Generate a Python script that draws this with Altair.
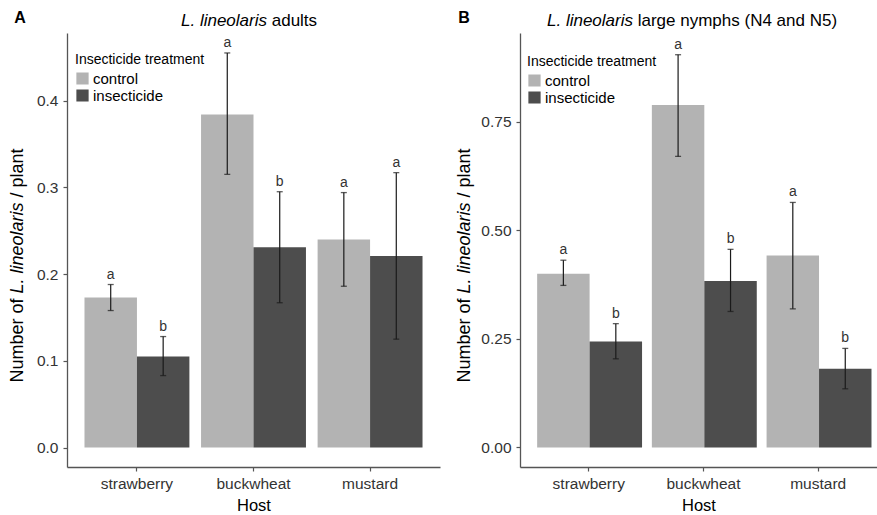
import altair as alt
import pandas as pd

hosts = ["strawberry", "buckwheat", "mustard"]
treatments = ["control", "insecticide"]

# order: strawberry(control, insecticide), buckwheat(...), mustard(...)
adult_mean = [0.173, 0.105, 0.384, 0.231, 0.240, 0.221]
adult_lo = [0.158, 0.083, 0.315, 0.167, 0.186, 0.125]
adult_hi = [0.188, 0.128, 0.455, 0.295, 0.294, 0.317]
adult_letters = ["a", "b", "a", "b", "a", "a"]

nymph_mean = [0.400, 0.244, 0.788, 0.383, 0.442, 0.181]
nymph_lo = [0.373, 0.204, 0.670, 0.313, 0.319, 0.135]
nymph_hi = [0.431, 0.285, 0.904, 0.456, 0.564, 0.228]
nymph_letters = ["a", "b", "a", "b", "a", "b"]

FONT = "Liberation Sans"
BAR_COLORS = ["#b3b3b3", "#4d4d4d"]


def make_df(mean, lo, hi, letters):
    rows = []
    i = 0
    for h in hosts:
        for t in treatments:
            rows.append(dict(host=h, treatment=t, mean=mean[i], lo=lo[i], hi=hi[i], letter=letters[i]))
            i += 1
    return pd.DataFrame(rows)


def text_layer(txt, x, y, size, italic=False, bold=False, align="center", angle=0, color="black"):
    kw = dict(font=FONT, fontSize=size, align=align, baseline="middle", color=color)
    if italic:
        kw["fontStyle"] = "italic"
    if bold:
        kw["fontWeight"] = "bold"
    if angle:
        kw["angle"] = angle
    return alt.Chart(alt.Data(values=[{"k": 1}])).mark_text(**kw).encode(
        x=alt.value(x), y=alt.value(y), text=alt.value(txt)
    )


def panel(df, width, height, ydom, yvals, yfmt, x_scale, legend_xy, title_split, title_rest,
          panel_letter, letter_x, ytitle_x, pin=False):
    base = alt.Chart(df)
    xenc = alt.X("host:N", sort=hosts, scale=x_scale,
                 axis=alt.Axis(title="Host", labelAngle=0, labelFontSize=15.5, titleFontSize=16.5,
                               titleFontWeight="normal", labelColor="#333333", titleColor="black",
                               tickSize=4, labelPadding=5, titlePadding=6, domainColor="#555555",
                               tickColor="#555555", domainWidth=1.3, tickWidth=1.2, grid=False,
                               labelFont=FONT, titleFont=FONT))
    xoff = alt.XOffset("treatment:N", sort=treatments,
                       scale=alt.Scale(paddingInner=0, paddingOuter=0))
    yscale = alt.Scale(domain=ydom, nice=False, zero=False)
    yenc = alt.Y("mean:Q", scale=yscale,
                 axis=alt.Axis(title=None, values=yvals, format=yfmt, labelFontSize=15.5,
                               labelColor="#333333", tickSize=4, labelPadding=5, grid=False,
                               domainColor="#555555", tickColor="#555555", domainWidth=1.3,
                               tickWidth=1.2, labelFont=FONT))
    bars = base.mark_bar(opacity=1).encode(
        x=xenc, xOffset=xoff, y=yenc, y2=alt.datum(0),
        color=alt.Color("treatment:N", scale=alt.Scale(domain=treatments, range=BAR_COLORS),
                        legend=alt.Legend(title="Insecticide treatment", orient="none",
                                          legendX=legend_xy[0], legendY=legend_xy[1])),
    )
    rules = base.mark_rule(color="#1a1a1a", strokeWidth=1.2).encode(
        x=alt.X("host:N", sort=hosts), xOffset=xoff,
        y=alt.Y("lo:Q"), y2="hi:Q")
    cap_hi = base.mark_tick(orient="horizontal", size=6, thickness=1.3, color="#1a1a1a").encode(
        x=alt.X("host:N", sort=hosts), xOffset=xoff, y=alt.Y("hi:Q"))
    cap_lo = base.mark_tick(orient="horizontal", size=6, thickness=1.3, color="#1a1a1a").encode(
        x=alt.X("host:N", sort=hosts), xOffset=xoff, y=alt.Y("lo:Q"))
    letters = base.mark_text(font=FONT, fontSize=14, baseline="alphabetic", dy=-6,
                             color="#333333").encode(
        x=alt.X("host:N", sort=hosts), xOffset=xoff, y=alt.Y("hi:Q"), text="letter:N")

    ts = 17
    sp = ts * 0.278
    t1 = text_layer("L. lineolaris", title_split, -12, ts, italic=True, align="right")
    t2 = text_layer(title_rest, title_split + sp, -12, ts, align="left")

    ys = 18
    yc = height / 2 - 2
    wi = 5057 * ys / 1000.0
    spy = ys * 0.278
    y1 = text_layer("L. lineolaris", ytitle_x, yc, ys, italic=True, angle=270)
    y0 = text_layer("Number of", ytitle_x, yc + wi / 2 + spy, ys, align="right", angle=270)
    y2 = text_layer("/ plant", ytitle_x, yc - wi / 2 - spy, ys, align="left", angle=270)

    lab = text_layer(panel_letter, letter_x, -15, 16, bold=True)

    layers = [bars, rules, cap_hi, cap_lo, letters, t1, t2, y0, y1, y2, lab]
    if pin:
        layers.append(
            alt.Chart(alt.Data(values=[{"k": 1}])).mark_rule(strokeOpacity=0, color="white").encode(
                x=alt.value(-67), x2=alt.value(-66), y=alt.value(-33), y2=alt.value(-32)))
    return alt.layer(*layers).properties(
        width=width, height=height, view=alt.ViewBackground(stroke=None, strokeWidth=0))


df_a = make_df(adult_mean, adult_lo, adult_hi, adult_letters)
df_b = make_df(nymph_mean, nymph_lo, nymph_hi, nymph_letters)

H = 434
left = panel(df_a, 373, H, [-0.0224, 0.478], [0, 0.1, 0.2, 0.3, 0.4], ".1f",
             alt.Scale(paddingInner=0.1, paddingOuter=0.15),
             (8, 20), 200, "adults", "A", -47, -49.5, pin=True)

right = panel(df_b, 357, H, [-0.045, 0.954], [0, 0.25, 0.5, 0.75], ".2f",
              alt.Scale(paddingInner=0.1, paddingOuter=0.106, align=0.705),
              (7, 22), 113, "large nymphs (N4 and N5)", "B", -56, -55)

chart = alt.hconcat(left, right, spacing=80, bounds="flush").resolve_scale(
    color="independent", y="independent", x="independent"
).properties(padding=0).configure_view(stroke=None, strokeWidth=0).configure(
    font=FONT).configure_legend(
    titleFontSize=14, titleFontWeight="normal", titleColor="black", titleFont=FONT,
    labelFontSize=15, labelFont=FONT, labelColor="black", symbolType="square", symbolSize=150,
    symbolStrokeWidth=0, symbolOpacity=1, clipHeight=13, rowPadding=1, titlePadding=5,
    labelOffset=3, padding=0
)

chart.save("out.html", embed_options={"renderer": "svg", "actions": False})
